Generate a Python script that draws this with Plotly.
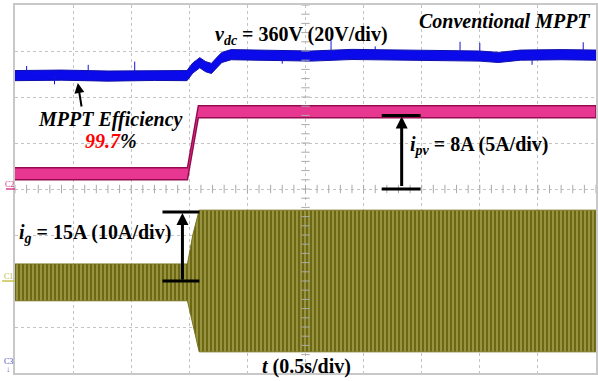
import plotly.graph_objects as go

# ---------------- data (read from the scope capture) ----------------
# time base: 0.5 s/div, 10 divisions
TIME_RANGE = [0.0, 5.0]

# C3: dc-link voltage (V), 20 V/div, offset so that 0 V sits 11.1 div below screen bottom
VDC_SCALE = 20.0
VDC_OFFSET_DIV = -11.1
vdc_t = [0.00, 0.40, 0.80, 1.20, 1.48, 1.53, 1.59, 1.64, 1.69, 1.73, 1.78, 1.86, 2.20, 2.55, 2.90, 3.30, 3.70, 4.00, 4.16, 4.35, 4.70, 5.00]
vdc_v = [351.3, 351.5, 351.1, 351.4, 351.3, 354.6, 356.9, 355.2, 354.4, 356.6, 359.2, 360.4, 360.2, 359.8, 360.5, 360.3, 360.0, 359.8, 359.2, 360.2, 360.4, 360.2]
VDC_BAND = 2.2
# a few noise spikes (time, peak voltage)
vdc_spike_t = [0.10, 0.63, 1.03, 2.72, 3.10, 3.83, 4.00, 4.89, 0.34, 2.30, 4.45]
vdc_spike_v = [355.5, 356.0, 357.4, 366.5, 364.0, 366.0, 365.5, 365.8, 347.5, 356.5, 356.0]

# C2: PV current (A), 5 A/div, ground at 4 div
IPV_SCALE = 5.0
IPV_OFFSET_DIV = 4.0
ipv_t = [0.00, 1.484, 1.578, 5.00]
ipv_a = [1.65, 1.65, 8.40, 8.40]
IPV_BAND = 0.65

# C1: grid current envelope (A), 10 A/div, ground at 2 div
IG_SCALE = 10.0
IG_OFFSET_DIV = 2.0
ig_t = [0.00, 1.484, 1.530, 1.585, 5.00]
ig_hi = [3.7, 3.7, 10.0, 15.4, 15.4]
ig_lo = [-4.3, -4.3, -9.0, -15.4, -15.4]

TRIGGER_T = 1.5
IPV_MARK = 8.0   # A
IG_MARK = 15.0   # A

# ---------------- helpers ----------------
def vdc_div(v):
    return [x / VDC_SCALE + VDC_OFFSET_DIV for x in v]

def ipv_div(a):
    return [x / IPV_SCALE + IPV_OFFSET_DIV for x in a]

def ig_div(a):
    return [x / IG_SCALE + IG_OFFSET_DIV for x in a]

L, R, T, B = 15, 598, 5, 373
def pxx(x):
    return (x - L) / (R - L)
def pxy(y):
    return (B - y) / (B - T)

FONT = "Liberation Serif"

fig = go.Figure()

# vdc band
up = vdc_div([v + VDC_BAND for v in vdc_v])
lo = vdc_div([v - VDC_BAND for v in vdc_v])
fig.add_trace(go.Scatter(x=vdc_t + vdc_t[::-1], y=up + lo[::-1], fill="toself",
                         fillcolor="rgb(10,10,235)", mode="lines",
                         line=dict(color="rgb(15,15,170)", width=1), hoverinfo="skip"))
sx, sy = [], []
base = dict(zip(vdc_t, vdc_v))
for t, v in zip(vdc_spike_t, vdc_spike_v):
    near = min(vdc_t, key=lambda q: abs(q - t))
    sx += [t, t, None]
    sy += vdc_div([base[near]]) + vdc_div([v]) + [None]
fig.add_trace(go.Scatter(x=sx, y=sy, mode="lines", line=dict(color="rgb(20,20,210)", width=1),
                         hoverinfo="skip"))

# ipv band
up = ipv_div([a + IPV_BAND for a in ipv_a])
lo = ipv_div([a - IPV_BAND for a in ipv_a])
fig.add_trace(go.Scatter(x=ipv_t + ipv_t[::-1], y=up + lo[::-1], fill="toself",
                         fillcolor="rgb(232,55,145)", mode="lines",
                         line=dict(color="rgb(150,10,80)", width=1.5), hoverinfo="skip"))

# ig envelope
fig.add_trace(go.Scatter(x=ig_t + ig_t[::-1], y=ig_div(ig_hi) + ig_div(ig_lo)[::-1], fill="toself",
                         mode="lines", line=dict(color="rgb(120,115,30)", width=1),
                         fillcolor="rgb(150,145,55)",
                         fillpattern=dict(shape="|", fgcolor="rgb(205,200,110)",
                                          bgcolor="rgb(108,104,22)", size=4, solidity=0.45),
                         hoverinfo="skip"))

# centre-line graticule ticks
fig.add_trace(go.Scatter(x=[i * 0.1 for i in range(51)], y=[4] * 51, mode="markers",
                         marker=dict(symbol="line-ns", size=6, line=dict(width=1, color="rgb(170,170,170)")),
                         hoverinfo="skip"))
fig.add_trace(go.Scatter(x=[2.5] * 41, y=[i * 0.2 for i in range(41)], mode="markers",
                         marker=dict(symbol="line-ew", size=6, line=dict(width=1, color="rgb(170,170,170)")),
                         hoverinfo="skip"))

# trigger marker
fig.add_trace(go.Scatter(x=[TRIGGER_T], y=[-0.08], mode="markers", cliponaxis=False,
                         marker=dict(symbol="triangle-up", size=7, color="rgb(30,60,220)"),
                         hoverinfo="skip"))

shapes = []
for lvl in [0.0, IPV_MARK]:
    yy = ipv_div([lvl])[0]
    shapes.append(dict(type="line", xref="paper", yref="y", x0=pxx(383), x1=pxx(422), y0=yy, y1=yy,
                       line=dict(color="black", width=3)))
for lvl in [0.0, IG_MARK]:
    yy = ig_div([lvl])[0]
    shapes.append(dict(type="line", xref="paper", yref="y", x0=pxx(163), x1=pxx(200), y0=yy, y1=yy,
                       line=dict(color="black", width=3)))
shapes.append(dict(type="line", xref="paper", yref="y", x0=pxx(6), x1=pxx(15), y0=IPV_OFFSET_DIV, y1=IPV_OFFSET_DIV,
                   line=dict(color="rgb(220,60,140)", width=1.5)))
shapes.append(dict(type="line", xref="paper", yref="y", x0=pxx(2), x1=pxx(15), y0=IG_OFFSET_DIV, y1=IG_OFFSET_DIV,
                   line=dict(color="rgb(200,195,80)", width=1.5)))

ann = []
def txt(s, x, y, size=20, anchor="left", color="black"):
    ann.append(dict(text=s, x=pxx(x), y=pxy(y), xref="paper", yref="paper", showarrow=False,
                    xanchor=anchor, yanchor="middle", font=dict(family=FONT, size=size, color=color)))

txt("<b><i>Conventional MPPT</i></b>", 418, 21)
txt("<b><i>v</i><sub><i>dc</i></sub> = 360V (20V/div)</b>", 214, 36)
txt("<b><i>MPPT Efficiency</i></b>", 36, 119)
txt("<b><i><span style='color:red'>99.7</span>%</i></b>", 83, 141)
txt("<b><i>i</i><sub><i>pv</i></sub> = 8A (5A/div)</b>", 409, 145)
txt("<b><i>i</i><sub><i>g</i></sub> = 15A (10A/div)</b>", 17, 234)
txt("<b><i>t</i> (0.5s/div)</b>", 261, 366)
txt("C2", 9, 184, size=8, anchor="center", color="rgb(220,60,140)")
txt("C1", 8, 276, size=8, anchor="center", color="rgb(190,185,70)")
txt("C3", 8, 361, size=8, anchor="center", color="rgb(80,80,200)")
txt("↓", 8, 369, size=8, anchor="center", color="rgb(80,80,200)")

ann.append(dict(text="", x=pxx(78), y=pxy(83), xref="paper", yref="paper", ax=4, ay=25,
                showarrow=True, arrowhead=2, arrowsize=1, arrowwidth=2, arrowcolor="black"))
ann.append(dict(text="", x=pxx(403), y=ipv_div([IPV_MARK])[0], xref="paper", yref="y", ax=0, ay=72,
                showarrow=True, arrowhead=2, arrowsize=0.8, arrowwidth=3, arrowcolor="black", standoff=1))
ann.append(dict(text="", x=pxx(183), y=ig_div([IG_MARK])[0], xref="paper", yref="y", ax=0, ay=69,
                showarrow=True, arrowhead=2, arrowsize=0.8, arrowwidth=3, arrowcolor="black", standoff=1))

fig.update_layout(
    width=598, height=381, margin=dict(l=L, r=598 - R, t=T, b=381 - B),
    paper_bgcolor="white", plot_bgcolor="white", showlegend=False,
    shapes=shapes, annotations=ann,
    xaxis=dict(range=TIME_RANGE, dtick=0.5, tick0=0, showgrid=True, gridcolor="rgb(195,195,195)",
               griddash="dot", gridwidth=1, zeroline=False, showticklabels=False, ticks="",
               showline=True, mirror=True, linecolor="rgb(200,200,200)", linewidth=2, fixedrange=True),
    yaxis=dict(range=[0, 8], dtick=1, tick0=0, showgrid=True, gridcolor="rgb(195,195,195)",
               griddash="dot", gridwidth=1, zeroline=False, showticklabels=False, ticks="",
               showline=True, mirror=True, linecolor="rgb(200,200,200)", linewidth=2, fixedrange=True),
)

fig.write_html("out.html", config={"displayModeBar": False})
